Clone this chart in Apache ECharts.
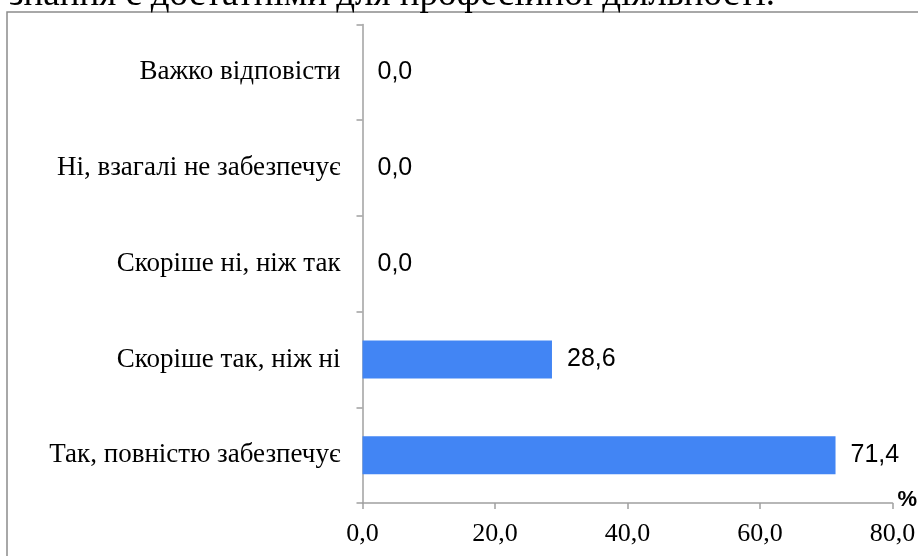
<!DOCTYPE html>
<html>
<head>
<meta charset="utf-8">
<script src="https://cdn.jsdelivr.net/npm/echarts@6/dist/echarts.min.js"></script>
<style>
  html, body { margin: 0; padding: 0; background: #fff; }
  #chart { width: 918px; height: 556px; }
</style>
</head>
<body>
<div id="chart"></div>
<script>
  // категорії знизу вгору
  var categories = [
    'Так, повністю забезпечує',
    'Скоріше так, ніж ні',
    'Скоріше ні, ніж так',
    'Ні, взагалі не забезпечує',
    'Важко відповісти'
  ];
  var values = [71.4, 28.6, 0.0, 0.0, 0.0];
  var xTicks = [0, 20, 40, 60, 80];

  function fmt(v) {
    return Number(v).toFixed(1).replace('.', ',');
  }

  var myChart = echarts.init(document.getElementById('chart'));
  var options = {
    backgroundColor: '#fff',
    animation: false,
    graphic: [
      {
        type: 'rect',
        shape: { x: 7, y: 12, width: 930, height: 570 },
        style: { fill: 'none', stroke: '#8c8c8c', lineWidth: 1.5 },
        z: 0
      },
      {
        type: 'text',
        x: 775, y: 14,
        style: {
          text: 'знання є достатніми для професійної діяльності.',
          font: '37px "Liberation Serif"',
          fill: '#000',
          align: 'right',
          verticalAlign: 'bottom'
        }
      }
    ],
    grid: {
      left: 362.5, right: 25.5, top: 24.5, bottom: 53,
      containLabel: false,
      outerBoundsMode: 'none'
    },
    xAxis: {
      type: 'value',
      min: xTicks[0],
      max: xTicks[xTicks.length - 1],
      interval: 20,
      name: '%',
      nameLocation: 'end',
      nameGap: 5,
      nameTextStyle: {
        fontFamily: 'Liberation Sans',
        fontWeight: 'bold',
        fontSize: 22,
        color: '#000',
        align: 'left',
        verticalAlign: 'bottom',
        padding: [0, 0, -8, 0]
      },
      splitLine: { show: false },
      axisLine: { show: true, lineStyle: { color: '#a0a0a0', width: 1.5 } },
      axisTick: { show: true, length: 6, lineStyle: { color: '#a0a0a0', width: 1.5 } },
      axisLabel: {
        margin: 18,
        fontFamily: 'Liberation Serif',
        fontSize: 26,
        color: '#000',
        formatter: fmt
      }
    },
    yAxis: {
      type: 'category',
      data: categories,
      axisLine: { show: true, lineStyle: { color: '#a0a0a0', width: 1.5 } },
      axisTick: { show: true, length: 6, alignWithLabel: false, lineStyle: { color: '#a0a0a0', width: 1.5 } },
      axisLabel: {
        margin: 22,
        fontFamily: 'Liberation Serif',
        fontSize: 27,
        color: '#000'
      }
    },
    series: [
      {
        type: 'bar',
        data: values,
        barWidth: 38,
        itemStyle: { color: '#4285F4' },
        label: {
          show: true,
          position: 'right',
          distance: 15,
          fontFamily: 'Liberation Sans',
          fontSize: 25,
          color: '#000',
          formatter: function (p) { return fmt(p.value); }
        }
      }
    ]
  };
  myChart.setOption(options);
</script>
</body>
</html>
